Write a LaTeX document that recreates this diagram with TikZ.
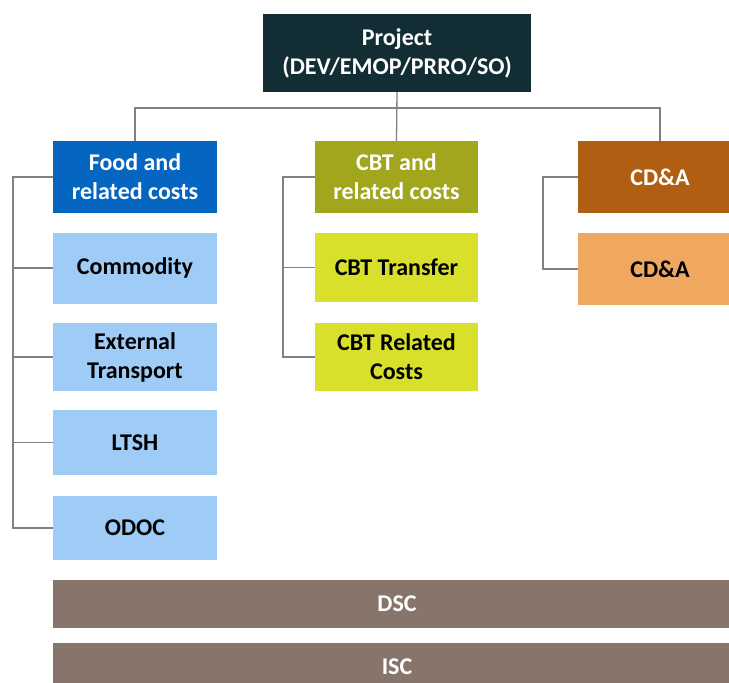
\documentclass[tikz,border=0pt]{standalone}
\usepackage{fontspec}
\setmainfont{Carlito}
\usetikzlibrary{calc}
\definecolor{ProjClr}{rgb}{0.075,0.176,0.208}
\definecolor{FoodClr}{rgb}{0.02,0.40,0.76}
\definecolor{FoodSubClr}{rgb}{0.62,0.80,0.97}
\definecolor{CbtClr}{rgb}{0.63,0.65,0.11}
\definecolor{CbtSubClr}{rgb}{0.85,0.88,0.17}
\definecolor{CdaClr}{rgb}{0.69,0.37,0.07}
\definecolor{CdaSubClr}{rgb}{0.94,0.66,0.38}
\definecolor{SupportClr}{rgb}{0.53,0.46,0.42}
\definecolor{LineClr}{rgb}{0.50,0.50,0.50}

\begin{document}
\begin{tikzpicture}[x=1pt,y=-1pt,
  box/.style={inner sep=0pt,align=center,minimum width=164pt,minimum height=72pt,
    font=\fontsize{24}{29}\selectfont\bfseries},
  headbox/.style={box,fill=#1,text=white},
  subbox/.style={box,fill=#1,text=black},
  link/.style={line width=1.3pt,color=LineClr}]
\useasboundingbox (0,0) rectangle (729,683);
\clip (0,0) rectangle (729,683);

% top
\node[headbox=ProjClr,minimum width=268pt,minimum height=78pt] (proj) at (397,53) {Project\\(DEV/EMOP/PRRO/SO)};

% food column
\node[headbox=FoodClr] (food) at (135,177) {Food and\\related costs};
\node[subbox=FoodSubClr,minimum height=71pt] (comm) at (135,268) {Commodity};
\node[subbox=FoodSubClr,minimum height=68pt] (ext) at (135,357) {External\\Transport};
\node[subbox=FoodSubClr,minimum height=65pt] (ltsh) at (135,442.5) {LTSH};
\node[subbox=FoodSubClr,minimum height=64pt] (odoc) at (135,528) {ODOC};

% cbt column
\node[headbox=CbtClr,minimum width=163pt] (cbt) at (396.5,177) {CBT and\\related costs};
\node[subbox=CbtSubClr,minimum width=163pt,minimum height=69pt] (cbtt) at (396.5,267.5) {CBT Transfer};
\node[subbox=CbtSubClr,minimum width=163pt,minimum height=68pt] (cbtr) at (396.5,357) {CBT Related\\Costs};

% cd&a column
\node[headbox=CdaClr] (cda) at (660,177) {CD\&A};
\node[subbox=CdaSubClr] (cdb) at (660,269) {CD\&A};

% support costs
\node[headbox=SupportClr,minimum width=688pt,minimum height=48pt] (dsc) at (397,604) {DSC};
\node[headbox=SupportClr,minimum width=688pt,minimum height=48pt] (isc) at (397,667) {ISC};

% connectors
\coordinate (bus) at (397,108);
\coordinate (foodrail) at (13,0);
\coordinate (cbtrail) at (283,0);
\coordinate (cdarail) at (543,0);
\draw[link] (proj.south) -- (cbt.north);
\draw[link] (food.north) |- (bus) -| (cda.north);
\draw[link] (food.west) -- (food.west -| foodrail) |- (odoc.west);
\foreach \n in {comm,ext,ltsh} \draw[link] (\n.west) -- (\n.west -| foodrail);
\draw[link] (cbt.west) -- (cbt.west -| cbtrail) |- (cbtr.west);
\draw[link] (cbtt.west) -- (cbtt.west -| cbtrail);
\draw[link] (cda.west) -- (cda.west -| cdarail) |- (cdb.west);

\end{tikzpicture}
\end{document}
